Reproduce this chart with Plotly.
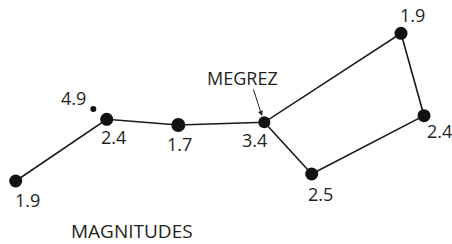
import plotly.graph_objects as go

# Star positions (chart coordinates, y grows downward) and magnitudes
stars = ["Alkaid", "Mizar", "Alioth", "Megrez", "Phecda", "Merak", "Dubhe", "Alcor"]
star_x = [15.7, 106.7, 178.3, 264.3, 311.7, 424.0, 401.0, 93.3]
star_y = [181.0, 119.3, 125.0, 122.3, 174.0, 115.7, 33.3, 109.0]
magnitudes = ["1.9", "2.4", "1.7", "3.4", "2.5", "2.4", "1.9", "4.9"]
marker_sizes = [13, 13, 14, 12, 13, 13, 13, 6]

# Path connecting the dipper stars
path = ["Alkaid", "Mizar", "Alioth", "Megrez", "Dubhe", "Merak", "Phecda", "Megrez"]

# label offsets (dx, dy) from star
label_offsets = {
    "Alkaid": (12, 19), "Mizar": (7, 18), "Alioth": (1, 19), "Megrez": (-10, 18),
    "Phecda": (9, 20), "Merak": (15, 15), "Dubhe": (11, -18), "Alcor": (-20, -11),
}

idx = {s: i for i, s in enumerate(stars)}
px = [star_x[idx[s]] for s in path]
py = [star_y[idx[s]] for s in path]

fig = go.Figure()
fig.add_trace(go.Scatter(x=px, y=py, mode="lines",
                         line=dict(color="#1a1a1a", width=1.6), hoverinfo="skip"))
fig.add_trace(go.Scatter(x=star_x, y=star_y, mode="markers",
                         marker=dict(color="#111111", size=marker_sizes, opacity=1,
                                     line=dict(width=0)),
                         text=stars, hoverinfo="text"))

font = dict(family="Open Sans", size=18, color="#231f20")
annotations = []
for s, m in zip(stars, magnitudes):
    dx, dy = label_offsets[s]
    annotations.append(dict(x=star_x[idx[s]] + dx, y=star_y[idx[s]] + dy, text=m,
                            showarrow=False, font=font, xanchor="center", yanchor="middle"))

annotations.append(dict(x=262, y=116, ax=253, ay=88, axref="x", ayref="y",
                        xref="x", yref="y", text="", showarrow=True,
                        arrowhead=2, arrowsize=1, arrowwidth=1, arrowcolor="#231f20"))
annotations.append(dict(x=242, y=78, text="MEGREZ", showarrow=False, font=font,
                        xanchor="center", yanchor="middle"))
annotations.append(dict(x=132, y=230.5, text="MAGNITUDES", showarrow=False,
                        font=dict(family="Open Sans", size=19, color="#231f20"),
                        xanchor="center", yanchor="middle"))

fig.update_layout(
    width=452, height=244,
    margin=dict(l=0, r=0, t=0, b=0),
    paper_bgcolor="white", plot_bgcolor="white",
    showlegend=False,
    xaxis=dict(range=[0, 452], visible=False, fixedrange=True),
    yaxis=dict(range=[244, 0], visible=False, fixedrange=True),
    annotations=annotations,
)

fig.write_html("out.html", config={"displayModeBar": False},
               post_script="document.body.style.margin='0px';document.body.style.overflow='hidden';")
